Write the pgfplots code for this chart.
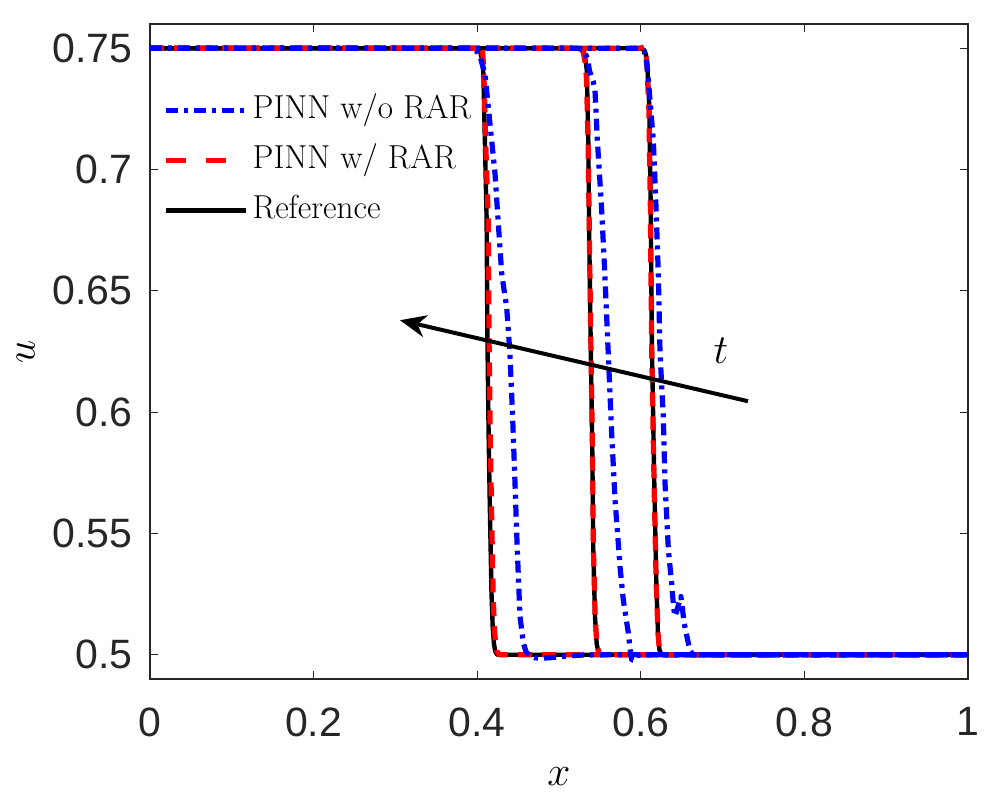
\documentclass[border=0pt]{standalone}
\usepackage{pgfplots}
\pgfplotsset{compat=1.18}
\usepackage{fontspec}
\newfontfamily\arial{Liberation Sans}
\usetikzlibrary{arrows.meta,calc}
\definecolor{axgray}{RGB}{38,38,38}
\begin{document}
\begin{tikzpicture}
\begin{axis}[name=ax, scale only axis, width=409pt, height=327.5pt,
 xmin=0, xmax=1, ymin=0.49, ymax=0.76,
 xtick={0,0.2,0.4,0.6,0.8,1}, xticklabels={0,0.2,0.4,0.6,0.8,1},
 ytick={0.5,0.55,0.6,0.65,0.7,0.75}, yticklabels={0.5,0.55,0.6,0.65,0.7,0.75},
 tick align=inside, major tick length=4pt,
 axis line style={axgray, line width=0.6pt}, tick style={axgray, line width=0.6pt},
 ticklabel style={font=\arial\fontsize{20.5}{24}\selectfont, text=axgray},
 xticklabel style={inner sep=0pt, anchor=north, yshift=-14pt},
 yticklabel style={inner sep=0pt, anchor=east, xshift=-8.5pt},
 xlabel={$x$}, ylabel={$u$},
 xlabel style={at={(axis description cs:0.5,-0.162)}, anchor=base, font=\fontsize{22}{26}\selectfont},
 ylabel style={at={(axis description cs:-0.152,0.5)}, anchor=center, font=\fontsize{22}{26}\selectfont},
 legend style={draw=none, fill=none, at={(axis description cs:0.016,0.899)}, anchor=north west,
   inner sep=0pt, font=\fontsize{16.6}{19}\selectfont, row sep=5pt,
   nodes={inner sep=2pt, text height=12pt, text depth=4pt}},
 legend cell align=left,
 legend image code/.code={\draw[#1] (0pt,0pt) -- (40pt,0pt);},
 every axis plot/.append style={line join=round},
]
\addlegendimage{blue, line width=2.6pt, dash pattern=on 6pt off 3pt on 2pt off 3pt}
\addlegendentry{PINN w/o RAR}
\addlegendimage{red, line width=2.6pt, dash pattern=on 10pt off 10pt}
\addlegendentry{PINN w/ RAR}
\addlegendimage{black, line width=2.2pt}
\addlegendentry{Reference}

% Reference
\addplot[black, line width=2.2pt, forget plot] coordinates {(0,0.75)(0.396,0.75)(0.4015,0.7495)(0.404,0.748)(0.406,0.745)(0.4075,0.74)(0.4095,0.71)(0.4115,0.68)(0.4125,0.63)(0.414,0.59)(0.4155,0.56)(0.4175,0.525)(0.419,0.511)(0.4205,0.5045)(0.422,0.5015)(0.4245,0.5)(1,0.5)};
\addplot[black, line width=2.2pt, forget plot] coordinates {(0,0.75)(0.526,0.75)(0.529,0.7495)(0.531,0.748)(0.5325,0.745)(0.534,0.7408)(0.5358,0.712)(0.537,0.6708)(0.5387,0.6296)(0.5407,0.5844)(0.5419,0.5432)(0.544,0.5158)(0.546,0.5048)(0.548,0.501)(0.5505,0.5)(1,0.5)};
\addplot[black, line width=2.2pt, forget plot] coordinates {(0,0.75)(0.598,0.75)(0.602,0.7497)(0.6045,0.749)(0.6065,0.747)(0.608,0.743)(0.6104,0.7257)(0.6121,0.6845)(0.6135,0.6296)(0.6165,0.5707)(0.619,0.5295)(0.621,0.5089)(0.6228,0.502)(0.6255,0.5)(1,0.5)};

% PINN w/ RAR
\addplot[red, line width=2.6pt, dash pattern=on 7pt off 5pt, forget plot] coordinates {(0,0.75)(0.397,0.75)(0.401,0.7505)(0.404,0.751)(0.4065,0.749)(0.408,0.742)(0.4105,0.71)(0.4135,0.68)(0.4145,0.63)(0.416,0.59)(0.4175,0.56)(0.4195,0.525)(0.421,0.511)(0.4225,0.5045)(0.424,0.5015)(0.427,0.5)(1,0.5)};
\addplot[red, line width=2.6pt, dash pattern=on 7pt off 5pt, forget plot] coordinates {(0,0.75)(0.525,0.75)(0.528,0.7495)(0.530,0.748)(0.532,0.744)(0.5335,0.738)(0.5355,0.712)(0.5372,0.6708)(0.5389,0.6296)(0.5409,0.5844)(0.5421,0.5432)(0.5442,0.5158)(0.5462,0.5048)(0.5485,0.501)(0.551,0.5)(1,0.5)};
\addplot[red, line width=2.6pt, dash pattern=on 7pt off 5pt, forget plot] coordinates {(0,0.75)(0.597,0.75)(0.601,0.7502)(0.604,0.7505)(0.6062,0.748)(0.6075,0.743)(0.6098,0.7257)(0.6117,0.6845)(0.6131,0.6296)(0.6162,0.5707)(0.6188,0.5295)(0.621,0.5089)(0.6228,0.502)(0.6255,0.5)(1,0.5)};

% PINN w/o RAR
\addplot[blue, line width=2.6pt, dash pattern=on 6pt off 3pt on 2pt off 3pt, forget plot] coordinates {(0,0.75)(0.393,0.75)(0.399,0.749)(0.404,0.746)(0.4095,0.7395)(0.4156,0.7189)(0.4218,0.6983)(0.4258,0.6777)(0.430,0.6571)(0.433,0.650)(0.436,0.6434)(0.440,0.6243)(0.4433,0.598)(0.4462,0.5707)(0.449,0.5432)(0.4523,0.5158)(0.4564,0.5048)(0.460,0.501)(0.4645,0.4995)(0.470,0.4988)(0.478,0.4985)(0.49,0.4988)(0.51,0.4995)(0.53,0.4999)(0.56,0.5)(1,0.5)};
\addplot[blue, line width=2.6pt, dash pattern=on 6pt off 3pt on 2pt off 3pt, forget plot] coordinates {(0,0.75)(0.522,0.75)(0.528,0.7495)(0.532,0.748)(0.5355,0.745)(0.537,0.741)(0.5399,0.738)(0.542,0.736)(0.544,0.7326)(0.5469,0.712)(0.552,0.6845)(0.556,0.6571)(0.5603,0.6235)(0.5644,0.5912)(0.5685,0.5638)(0.5746,0.5363)(0.5786,0.5226)(0.5848,0.5089)(0.587,0.502)(0.5889,0.4979)(0.591,0.4978)(0.594,0.4995)(0.60,0.5)(1,0.5)};
\addplot[blue, line width=2.6pt, dash pattern=on 6pt off 3pt on 2pt off 3pt, forget plot] coordinates {(0,0.75)(0.594,0.75)(0.600,0.7497)(0.604,0.749)(0.6065,0.746)(0.6093,0.7367)(0.6153,0.712)(0.6186,0.6845)(0.6214,0.6571)(0.6235,0.6245)(0.6275,0.598)(0.6296,0.5707)(0.6337,0.5432)(0.6377,0.5295)(0.640,0.520)(0.6415,0.5158)(0.644,0.518)(0.6475,0.5225)(0.649,0.524)(0.6505,0.520)(0.653,0.513)(0.657,0.5065)(0.660,0.502)(0.6635,0.5)(1,0.5)};

% time arrow
\addplot[black, line width=2pt, -{Stealth[length=13pt, width=11pt, inset=4pt]}, forget plot] coordinates {(0.731,0.6045)(0.3056,0.6379)};
\node[anchor=base, font=\fontsize{22}{26}\selectfont] at (axis cs:0.698,0.620) {$t$};
\end{axis}
\pgfresetboundingbox
\path ($(ax.south west)+(-75pt,-60.5pt)$) rectangle ($(ax.north east)+(16pt,12pt)$);
\end{tikzpicture}
\end{document}
